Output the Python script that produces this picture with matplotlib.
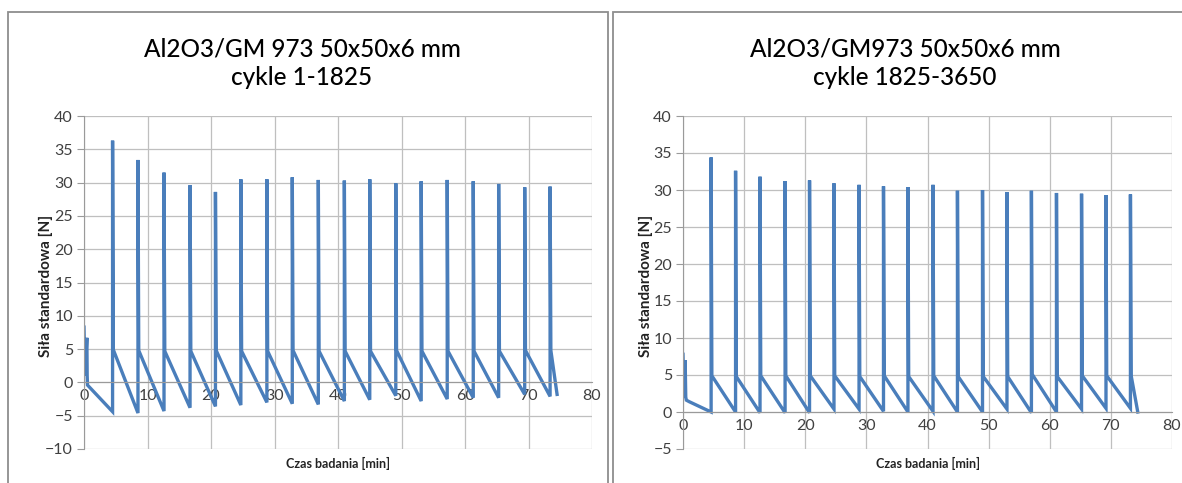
import matplotlib
matplotlib.use("Agg")
import matplotlib.pyplot as plt
from matplotlib.patches import Rectangle

plt.rcParams['font.family'] = ['Lato', 'DejaVu Sans']

titles = ["Al2O3/GM 973 50x50x6 mm\ncykle 1-1825",
          "Al2O3/GM973 50x50x6 mm\ncykle 1825-3650"]
xlabel = "Czas badania [min]"
ylabel = "Siła standardowa [N]"

# ---- left chart: cycles 1-1825 ----
# start of the run (before the first big peak)
l_start_t = [0.0, 0.15, 0.45, 0.5, 0.55]
l_start_f = [8.3, 1.0, 6.7, 1.0, -0.4]
# cycle times, peaks, low points just before each peak, level after drop
l_cycle_t = [4.5, 8.5, 12.6, 16.7, 20.7, 24.7, 28.8, 32.8, 36.9, 41.0,
             45.0, 49.1, 53.1, 57.2, 61.3, 65.3, 69.4, 73.4]
l_peak = [36.3, 33.4, 31.5, 29.6, 28.6, 30.5, 30.5, 30.8, 30.4, 30.3,
          30.5, 29.9, 30.2, 30.4, 30.2, 29.8, 29.3, 29.4]
l_low = [-4.4, -4.6, -4.3, -3.8, -3.6, -3.4, -3.0, -3.2, -3.3, -2.8,
         -2.6, -2.0, -2.8, -2.5, -2.3, -2.3, -1.8, -2.1]
l_rest = [4.9, 4.8, 4.7, 4.7, 4.8, 4.7, 4.7, 4.8, 4.7, 4.7,
          4.7, 4.8, 4.7, 4.7, 4.7, 4.7, 4.8, 4.8]
l_end_t = [74.5]
l_end_f = [-1.8]

# ---- right chart: cycles 1825-3650 ----
r_start_t = [0.0, 0.15, 0.35, 0.45, 0.55, 1.0]
r_start_f = [7.8, 2.0, 7.0, 2.0, 1.6, 1.4]
r_cycle_t = [4.6, 8.6, 12.6, 16.7, 20.7, 24.7, 28.8, 32.8, 36.8, 40.9,
             44.9, 49.0, 53.0, 57.0, 61.1, 65.2, 69.2, 73.2]
r_peak = [34.4, 32.6, 31.8, 31.2, 31.3, 30.9, 30.7, 30.5, 30.4, 30.7,
          29.9, 30.0, 29.7, 29.9, 29.6, 29.5, 29.3, 29.4]
r_low = [0.0, 0.0, -0.1, -0.1, -0.1, 0.4, 0.4, 0.1, 0.0, 0.1,
         0.0, 0.0, 0.4, -0.1, 0.0, 0.4, 0.5, 0.5]
r_rest = [4.9, 4.8, 4.9, 4.9, 4.9, 4.9, 4.8, 4.9, 4.8, 4.9,
          4.8, 4.8, 4.8, 5.1, 4.8, 4.9, 4.9, 4.9]
r_end_t = [74.4]
r_end_f = [0.0]


def build(start_t, start_f, cyc_t, peak, low, rest, end_t, end_f):
    t = list(start_t)
    f = list(start_f)
    for tk, pk, lo, re in zip(cyc_t, peak, low, rest):
        t += [tk, tk, tk + 0.12]
        f += [lo, pk, re]
    return t + end_t, f + end_f


fig = plt.figure(figsize=(11.82, 4.83), dpi=100)

# chart area borders
border = '#8e8e8e'
for x0 in (8, 613):
    fig.patches.append(Rectangle((x0 / 1182, -0.05), 600 / 1182,
                                 1.05 - 12 / 483,
                                 transform=fig.transFigure, fill=False,
                                 edgecolor=border, linewidth=1.3))

panels = [
    dict(rect=[84 / 1182, 1 - 449 / 483, 508 / 1182, 333 / 483],
         ylim=(-10, 40), data=build(l_start_t, l_start_f, l_cycle_t, l_peak,
                                    l_low, l_rest, l_end_t, l_end_f),
         title_x=302 / 1182, ylab_x=46 / 1182),
    dict(rect=[683 / 1182, 1 - 449 / 483, 489 / 1182, 333 / 483],
         ylim=(-5, 40), data=build(r_start_t, r_start_f, r_cycle_t, r_peak,
                                   r_low, r_rest, r_end_t, r_end_f),
         title_x=905 / 1182, ylab_x=646 / 1182),
]

for i, p in enumerate(panels):
    ax = fig.add_axes(p['rect'])
    t, f = p['data']
    ax.plot(t, f, color='#4a7ebb', linewidth=2.4, solid_joinstyle='miter')
    ax.set_xlim(0, 80)
    ax.set_ylim(*p['ylim'])
    ax.set_xticks(range(0, 81, 10))
    ax.set_yticks(range(p['ylim'][0], 41, 5))
    ax.grid(True, color='#bfbfbf', linewidth=0.9)
    ax.set_axisbelow(True)
    for s in ['top', 'right']:
        ax.spines[s].set_visible(False)
    ax.spines['bottom'].set_position(('data', 0))
    ax.spines['bottom'].set_color('#9a9a9a')
    ax.spines['left'].set_color('#9a9a9a')
    ax.tick_params(axis='both', colors='#9a9a9a', labelcolor='#404040',
                   labelsize=11.5)
    ax.tick_params(axis='x', length=0, pad=5)
    ax.tick_params(axis='y', length=5, pad=3)
    fig.text(p['title_x'], 1 - 63 / 483, titles[i], ha='center', va='center',
             fontsize=17.5, fontweight='medium', linespacing=1.3,
             color='#000000')
    fig.text(p['ylab_x'], 1 - 286 / 483, ylabel, rotation=90, ha='center',
             va='center', fontsize=11, fontweight='bold', color='#222222')
    cx = p['rect'][0] + p['rect'][2] / 2
    fig.text(cx, 1 - 463 / 483, xlabel, ha='center', va='center',
             fontsize=9, fontweight='bold', color='#222222')

fig.savefig('out.png', dpi=100)
